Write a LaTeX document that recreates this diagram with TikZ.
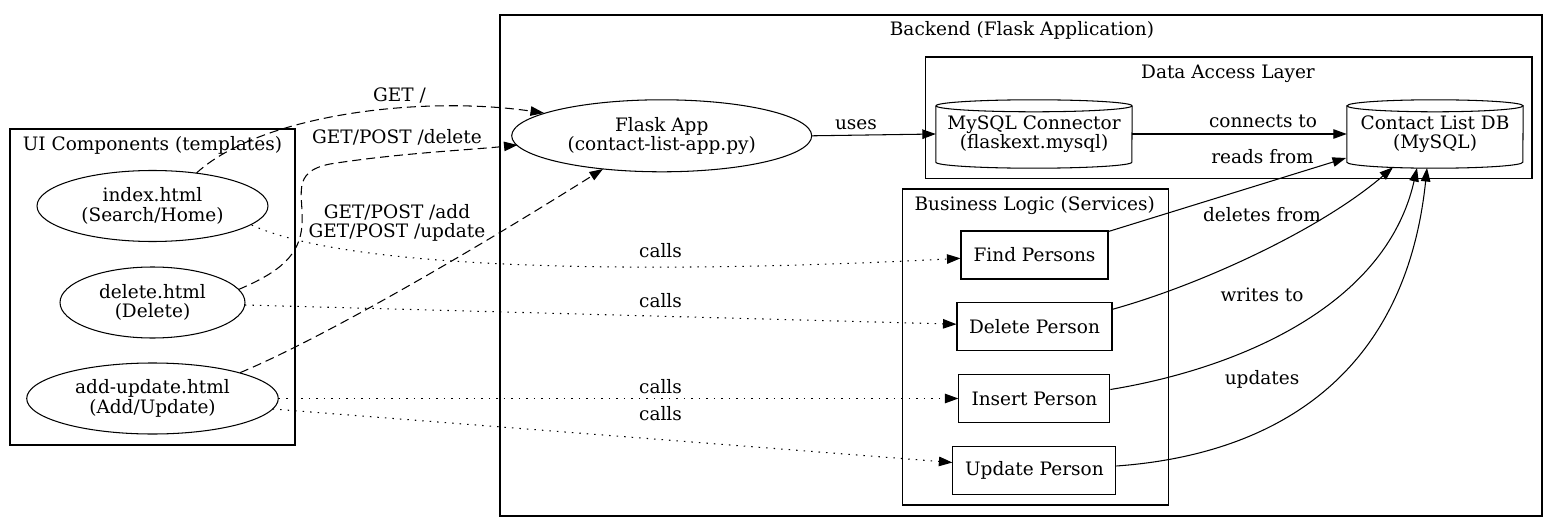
\documentclass[tikz,border=0pt]{standalone}
\usepackage{fontspec}
\setmainfont{DejaVu Serif}
\usetikzlibrary{shapes.geometric,arrows.meta,calc}
\tikzset{
  every node/.style={font=\fontsize{18.5}{19.5}\selectfont},
  ell/.style={ellipse, draw, line width=1.05pt, inner sep=0pt, align=center},
  svc/.style={rectangle, draw, line width=1.05pt, inner sep=0pt, align=center},
  cylbox/.style={rectangle, inner sep=0pt, align=center},
  cluster/.style={rectangle, draw, line width=1.05pt, inner sep=0pt},
  lbl/.style={anchor=base, inner sep=0pt},
  arr/.style={-{Triangle[length=13.5pt,width=9.5pt]}, line width=1.05pt},
  dashedge/.style={arr, dash pattern=on 9pt off 5pt},
  dotedge/.style={arr, dash pattern=on 1.5pt off 6pt},
}
\newcommand\cylshape[2]{%
  \draw[line width=1.05pt] ($(#1.north west)+(0,6)$) -- ($(#1.south west)+(0,-6)$)
     arc[start angle=180,end angle=360,x radius=#2pt,y radius=6pt] -- ($(#1.north east)+(0,6)$);
  \draw[line width=1.05pt] ($(#1.north)+(0,6)$) ellipse[x radius=#2pt,y radius=6pt];
}
\begin{document}
\begin{tikzpicture}[x=1pt,y=-1pt]
\fill[white] (0,0) rectangle (1558,532);
\useasboundingbox (0,0) rectangle (1558,532);

% clusters
\node[cluster, minimum width=1042pt, minimum height=501pt] (backend) at (1021,265.5) {};
\node[lbl] (backendT) at (1022,35.7) {Backend (Flask Application)};
\node[cluster, minimum width=285pt, minimum height=316pt] (ui) at (152.5,287) {};
\node[lbl] (uiT) at (152.5,150.7) {UI Components (templates)};
\node[cluster, minimum width=606.3pt, minimum height=121.5pt] (dal) at (1228.85,117.75) {};
\node[lbl] (dalT) at (1228,78.3) {Data Access Layer};
\node[cluster, minimum width=266pt, minimum height=316pt] (biz) at (1035.3,347) {};
\node[lbl] (bizT) at (1034.7,210) {Business Logic (Services)};

% UI nodes
\node[ell, minimum width=231pt, minimum height=71pt] (index) at (152.5,206) {index.html\\(Search/Home)};
\node[ell, minimum width=185pt, minimum height=71pt] (del) at (152.5,302.5) {delete.html\\(Delete)};
\node[ell, minimum width=251.6pt, minimum height=71pt] (addup) at (152.5,398.5) {add-update.html\\(Add/Update)};

% backend nodes
\node[ell, minimum width=300pt, minimum height=72pt] (flask) at (661.7,135.8) {Flask App\\(contact-list-app.py)};
\node[cylbox, minimum width=196pt, minimum height=68pt] (conn) at (1034,134) {MySQL Connector\\(flaskext.mysql)};
\cylshape{conn}{98}
\node[cylbox, minimum width=176pt, minimum height=68pt] (db) at (1435,134) {Contact List DB\\(MySQL)};
\cylshape{db}{88}

\node[svc, minimum width=147pt, minimum height=48pt] (find) at (1034.5,255) {Find Persons};
\node[svc, minimum width=155pt, minimum height=48pt] (dp) at (1034.5,326.7) {Delete Person};
\node[svc, minimum width=151pt, minimum height=48pt] (ins) at (1034.4,398.5) {Insert Person};
\node[svc, minimum width=163pt, minimum height=48pt] (uper) at (1034.4,470.5) {Update Person};

% dashed routes
\draw[dashedge] ($(index.center)+(44,-33)$) .. controls (260,115) and (420,95) .. ($(flask.center)+(-117.7,-22.8)$);
\draw[dashedge] ($(del.center)+(86,-13)$) .. controls (280,272) and (300,255) .. (302,225)
   .. controls (304,195) and (290,172) .. (330,164)
   .. controls (400,153) and (470,150) .. ($(flask.center)+(-144.2,9.2)$);
\draw[dashedge] ($(addup.center)+(87.5,-25.8)$) .. controls (330,335) and (490,240) .. ($(flask.center)+(-58.7,33.2)$);

% solid
\draw[arr] (flask.east) -- (conn.west);
\draw[arr] (conn.east) -- (db.west);
\draw[arr] ($(find.north east)+(0,1)$) -- ($(db.center)+(-89,24)$);
\draw[arr] ($(dp.east)+(0,-17.4)$) .. controls (1200,285) and (1320,230) .. ($(db.center)+(-42,33.3)$);
\draw[arr] ($(ins.east)+(0,-9)$) .. controls (1230,370) and (1385,310) .. ($(db.center)+(-18,34)$);
\draw[arr] ($(uper.east)+(0,-4.5)$) .. controls (1270,455) and (1405,380) .. ($(db.center)+(-8,34)$);

% dotted calls
\draw[dotedge] ($(index.center)+(99.2,19)$) .. controls (360,275) and (700,272) .. ($(find.west)+(0,3.3)$);
\draw[dotedge] ($(del.center)+(92.4,2.5)$) -- ($(dp.west)+(0,-2.5)$);
\draw[dotedge] (addup.east) -- (ins.west);
\draw[dotedge] ($(addup.center)+(120.2,10.5)$) -- ($(uper.west)+(0,-8)$);

% labels
\node[lbl] (l1) at (399.5,101.7) {GET /};
\node[lbl] (l2) at (397,143.3) {GET/POST /delete};
\node[align=center, inner sep=0pt] (l3) at (397,222.7) {GET/POST /add\\GET/POST /update};
\node[lbl] (l4) at (856,129.3) {uses};
\node[lbl] (l5) at (1263,127.3) {connects to};
\node[lbl] (l6) at (1262.5,163.3) {reads from};
\node[lbl] (l7) at (1262,221.7) {deletes from};
\node[lbl] (l8) at (1262,301.7) {writes to};
\node[lbl] (l9) at (1262,384) {updates};
\node[lbl] (c1) at (660.5,257.7) {calls};
\node[lbl] (c2) at (660.5,307.7) {calls};
\node[lbl] (c3) at (660.5,393.3) {calls};
\node[lbl] (c4) at (660.5,420.7) {calls};
\end{tikzpicture}
\end{document}
